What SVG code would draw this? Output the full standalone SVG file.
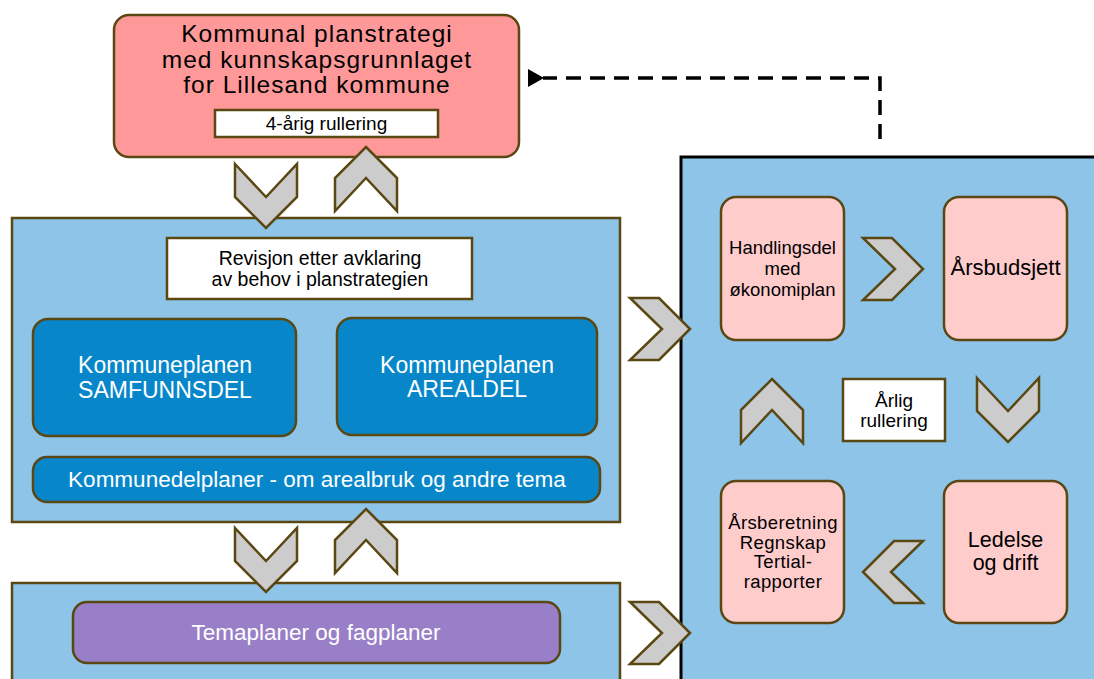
<svg xmlns="http://www.w3.org/2000/svg" width="1094" height="679" viewBox="0 0 1094 679">
<defs>
<style>
.bx{stroke:#5a4712;stroke-width:2.5}
.panel{fill:#8dc4e8;stroke:#5a4712;stroke-width:2.5}
.dark{fill:#0787ca;stroke:#5a4712;stroke-width:2.5}
.pink{fill:#ffcccc;stroke:#5a4712;stroke-width:2.5}
.white{fill:#ffffff;stroke:#5a4712;stroke-width:2.5}
.chev{fill:#cccccc;stroke:#5a4712;stroke-width:2.5;stroke-linejoin:miter}
text{font-family:"Liberation Sans",Arial,sans-serif;text-anchor:middle}
.tk{fill:#000000}
.tw{fill:#ffffff}
</style>
<polygon id="cd" points="0,0 31,33 62,0 62,33 31,64 0,33"/>
<polygon id="cu" points="31,0 62,31 62,64 31,31 0,64 0,31"/>
<polygon id="cr" points="0,0 29,0 60,31 29,62 0,62 32,31"/>
<polygon id="cl" points="31,0 60,0 28,31 60,62 31,62 0,31"/>
<marker id="ah" viewBox="0 0 16 18" refX="1" refY="9" markerWidth="16" markerHeight="18" markerUnits="userSpaceOnUse" orient="auto-start-reverse">
<path d="M0,9 L16,0 L16,18 Z" fill="#000000"/>
</marker>
</defs>
<rect width="1094" height="679" fill="#ffffff"/>

<g id="panel-right">
<rect x="681" y="157" width="430" height="540" fill="#8dc4e8" stroke="#000000" stroke-width="3"/>
</g>

<g id="node-planstrategi">
<rect x="114" y="15" width="405" height="142" rx="15" fill="#ff9999" class="bx"/>
<text class="tk" font-size="24.5" letter-spacing="1" x="317" y="42">Kommunal planstrategi</text>
<text class="tk" font-size="24.5" letter-spacing="1" x="317" y="67.5">med kunnskapsgrunnlaget</text>
<text class="tk" font-size="24.5" letter-spacing="1" x="317" y="93">for Lillesand kommune</text>
</g>
<g id="node-4arig">
<rect x="215" y="110" width="223" height="27" class="white"/>
<text class="tk" font-size="19" x="326.5" y="130">4-årig rullering</text>
</g>

<g id="panel-middle">
<rect x="12" y="218" width="608" height="304" class="panel"/>
</g>
<g id="node-revisjon">
<rect x="167" y="238" width="305" height="61" class="white"/>
<text class="tk" font-size="19.5" x="320" y="265">Revisjon etter avklaring</text>
<text class="tk" font-size="19.5" x="320" y="286">av behov i planstrategien</text>
</g>
<g id="node-samfunnsdel">
<rect x="33" y="319" width="263" height="117" rx="15" class="dark"/>
<text class="tw" font-size="23" x="165" y="373">Kommuneplanen</text>
<text class="tw" font-size="23" x="165" y="398">SAMFUNNSDEL</text>
</g>
<g id="node-arealdel">
<rect x="337" y="318" width="260" height="117" rx="15" class="dark"/>
<text class="tw" font-size="23" x="467" y="373">Kommuneplanen</text>
<text class="tw" font-size="23" x="467" y="397">AREALDEL</text>
</g>
<g id="node-kommunedelplaner">
<rect x="33" y="457" width="567" height="45" rx="14" class="dark"/>
<text class="tw" font-size="22.5" x="317" y="487">Kommunedelplaner - om arealbruk og andre tema</text>
</g>

<g id="panel-bottom">
<rect x="12" y="583" width="608" height="120" class="panel"/>
</g>
<g id="node-temaplaner">
<rect x="73" y="602" width="487" height="61" rx="14" fill="#997fc7" class="bx"/>
<text class="tw" font-size="22.5" x="316" y="640">Temaplaner og fagplaner</text>
</g>

<g id="node-handlingsdel">
<rect x="721" y="197" width="123" height="143" rx="15" class="pink"/>
<text class="tk" font-size="18.5" x="782.5" y="254">Handlingsdel</text>
<text class="tk" font-size="18.5" x="782.5" y="275">med</text>
<text class="tk" font-size="18.5" x="782.5" y="296">økonomiplan</text>
</g>
<g id="node-arsbudsjett">
<rect x="944" y="197" width="123" height="143" rx="15" class="pink"/>
<text class="tk" font-size="22" x="1005.5" y="275">Årsbudsjett</text>
</g>
<g id="node-arlig">
<rect x="843" y="379" width="102" height="62" class="white"/>
<text class="tk" font-size="19" x="894" y="407">Årlig</text>
<text class="tk" font-size="19" x="894" y="427">rullering</text>
</g>
<g id="node-arsberetning">
<rect x="721" y="481" width="123" height="142" rx="15" class="pink"/>
<text class="tk" font-size="18.5" letter-spacing="0.4" x="783" y="529">Årsberetning</text>
<text class="tk" font-size="18.5" letter-spacing="0.4" x="783" y="548.5">Regnskap</text>
<text class="tk" font-size="18.5" letter-spacing="0.4" x="783" y="568">Tertial-</text>
<text class="tk" font-size="18.5" letter-spacing="0.4" x="783" y="587.5">rapporter</text>
</g>
<g id="node-ledelse">
<rect x="944" y="481" width="123" height="142" rx="15" class="pink"/>
<text class="tk" font-size="21.5" x="1005.5" y="547">Ledelse</text>
<text class="tk" font-size="21.5" x="1005.5" y="570">og drift</text>
</g>

<g id="connectors">
<use href="#cd" class="chev" transform="translate(235,164)"/>
<use href="#cu" class="chev" transform="translate(335,147)"/>
<use href="#cd" class="chev" transform="translate(235,528)"/>
<use href="#cu" class="chev" transform="translate(335,509)"/>
<use href="#cr" class="chev" transform="translate(630,298)"/>
<use href="#cr" class="chev" transform="translate(630,602)"/>
<use href="#cr" class="chev" transform="translate(863,238)"/>
<use href="#cd" class="chev" transform="translate(977,378)"/>
<use href="#cl" class="chev" transform="translate(863,541)"/>
<use href="#cu" class="chev" transform="translate(741,379)"/>
<path d="M880,139 L880,78 L543,78" fill="none" stroke="#000000" stroke-width="3.5" stroke-dasharray="15 9" marker-end="url(#ah)"/>
</g>
</svg>
